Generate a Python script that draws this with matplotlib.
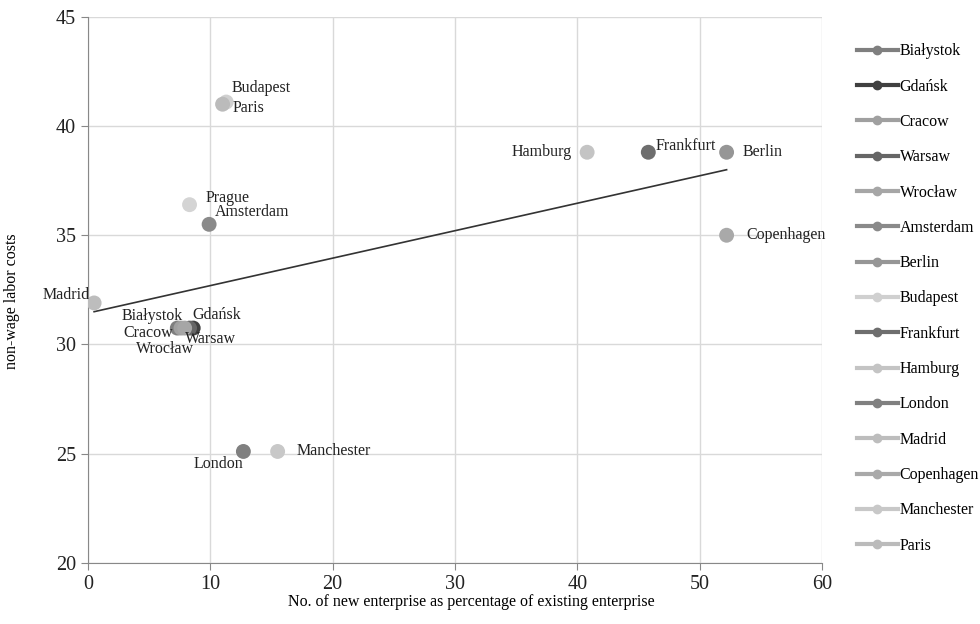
import matplotlib.pyplot as plt
import numpy as np

plt.rcParams["font.family"] = ["Liberation Serif", "DejaVu Serif"]

# data
cities = ["Białystok", "Gdańsk", "Cracow", "Warsaw", "Wrocław", "Amsterdam", "Berlin",
          "Budapest", "Frankfurt", "Hamburg", "London", "Madrid", "Copenhagen",
          "Manchester", "Paris", "Prague"]
new_enterprise = [7.3, 8.6, 7.6, 8.3, 7.9, 9.9, 52.2, 11.3, 45.8, 40.8, 12.7, 0.5, 52.2,
                  15.5, 11.0, 8.3]
labor_costs = [30.75, 30.75, 30.75, 30.75, 30.75, 35.5, 38.8, 41.1, 38.8, 38.8, 25.1,
               31.9, 35.0, 25.1, 41.0, 36.4]
colors = ["#7f7f7f", "#404040", "#a0a0a0", "#666666", "#a6a6a6", "#8a8a8a", "#969696",
          "#d0d0d0", "#6e6e6e", "#c4c4c4", "#808080", "#bdbdbd", "#a9a9a9",
          "#c8c8c8", "#bbbbbb", "#d4d4d4"]
in_legend = [True] * 15 + [False]

# label offsets in pixels and alignment
label_offsets = [(6, 12, "right"), (-1, 13, "left"), (-8, -5, "right"), (-5, -11, "left"),
                 (9, -21, "right"), (6, 12, "left"), (16, 0, "left"), (5, 14, "left"),
                 (7, 6, "left"), (-15, 0, "right"), (0, -13, "right"), (-4, 8, "right"),
                 (20, 0, "left"), (19, 0, "left"), (10, -4, "left"), (16, 7, "left")]

trend_x = [0.5, 52.2]
trend_y = [31.5, 38.0]

fig = plt.figure(figsize=(9.8, 6.24), dpi=100)
ax = fig.add_axes([0.0898, 0.098, 0.749, 0.875])

handles = []
for name, x, y, c, leg in zip(cities, new_enterprise, labor_costs, colors, in_legend):
    ax.scatter([x], [y], s=115, color=c, zorder=3, edgecolors="none")
    if leg:
        h, = ax.plot([], [], color=c, lw=3, marker="o", markersize=6, label=name)
        handles.append(h)

for name, x, y, (dx, dy, ha) in zip(cities, new_enterprise, labor_costs, label_offsets):
    ax.annotate(name, (x, y), xytext=(dx, dy), textcoords="offset pixels",
                ha=ha, va="center", fontsize=11.5, color="#222222", zorder=4)

ax.plot(trend_x, trend_y, color="#333333", lw=1.2, zorder=2)

ax.set_xlim(0, 60)
ax.set_ylim(20, 45)
ax.set_xticks(np.arange(0, 61, 10))
ax.set_yticks(np.arange(20, 46, 5))
ax.grid(True, color="#d9d9d9", lw=1)
ax.set_axisbelow(True)
for s in ["top", "right"]:
    ax.spines[s].set_visible(False)
for s in ["left", "bottom"]:
    ax.spines[s].set_color("#888888")
ax.tick_params(labelsize=14.5, color="#888888", length=5, labelcolor="#222222")

ax.set_xlabel("No. of new enterprise as percentage of existing enterprise", fontsize=11.5,
              va="center")
ax.set_ylabel("non-wage labor costs", fontsize=11.5, va="center")
ax.xaxis.set_label_coords(0.522, -0.0714)
ax.yaxis.set_label_coords(-0.103, 0.48)

fig.legend(handles=handles, loc="upper left", bbox_to_anchor=(0.868, 0.941),
           frameon=False, fontsize=11.5, labelspacing=1.21, handlelength=2.56,
           handletextpad=0.1, borderaxespad=0)

fig.savefig("out.png", dpi=100)
